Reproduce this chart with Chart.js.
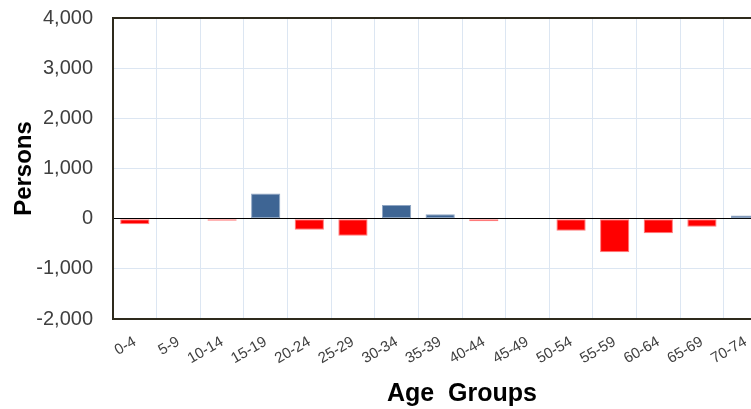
<!DOCTYPE html>
<html>
<head>
<meta charset="utf-8">
<script src="https://cdn.jsdelivr.net/npm/chart.js@4"></script>
<style>
  html, body { margin: 0; padding: 0; background: #fff; overflow: hidden; }
  #wrap { width: 751px; height: 409px; overflow: hidden; position: relative; }
  canvas { position: absolute; left: 0; top: 0; }
</style>
</head>
<body>
<div id="wrap">
  <canvas id="chart" width="811" height="409"></canvas>
</div>
<script>
// Age groups (last slot is empty, the plot runs past the picture edge)
const ageGroups = ['0-4', '5-9', '10-14', '15-19', '20-24', '25-29', '30-34', '35-39',
                   '40-44', '45-49', '50-54', '55-59', '60-64', '65-69', '70-74', ''];
const persons = [-110, 0, -40, 500, -220, -340, 270, 90,
                 -50, 0, -240, -670, -290, -160, 65, null];
const yTicks = [-2000, -1000, 0, 1000, 2000, 3000, 4000];

const posColor = '#3e6594';
const negColor = '#ff0000';

// Frame round the plot area (left, top, bottom)
const plotFrame = {
    id: 'plotFrame',
    afterDraw(chart) {
        const a = chart.chartArea;
        const ctx = chart.ctx;
        ctx.save();
        ctx.strokeStyle = '#2e2a1c';
        ctx.lineWidth = 2;
        ctx.strokeRect(a.left, a.top, a.right - a.left, a.bottom - a.top);
        ctx.restore();
    }
};

const ctx = document.getElementById('chart').getContext('2d');
new Chart(ctx, {
    type: 'bar',
    data: {
        labels: ageGroups,
        datasets: [{
            data: persons,
            backgroundColor: persons.map(v => v >= 0 ? posColor : negColor),
            borderColor: persons.map(v => v >= 0 ? '#8fa6c4' : '#ff7a7a'),
            borderWidth: 1,
            borderSkipped: false,
            barPercentage: 0.67,
            categoryPercentage: 1
        }]
    },
    options: {
        responsive: false,
        animation: false,
        layout: { padding: { top: 18, left: 0, right: 0, bottom: 0 } },
        plugins: {
            legend: { display: false },
            tooltip: { enabled: false }
        },
        scales: {
            x: {
                afterFit: axis => {
                    axis.height = 90;
                    axis.paddingLeft = 0;
                    axis.paddingRight = 0;
                },
                grid: { color: '#dce6f2', lineWidth: 1, drawTicks: false, offset: true },
                border: { display: false },
                ticks: {
                    autoSkip: false,
                    minRotation: 30,
                    maxRotation: 30,
                    padding: 14,
                    color: '#404040',
                    font: { family: 'Liberation Sans, Arial', size: 15 }
                },
                title: {
                    display: true,
                    text: 'Age  Groups',
                    color: '#000',
                    font: { family: 'Liberation Sans, Arial', size: 25, weight: 'bold' },
                    padding: { top: 4, bottom: 0 }
                }
            },
            y: {
                min: -2000,
                max: 4000,
                afterBuildTicks: axis => { axis.ticks = yTicks.map(v => ({ value: v })); },
                afterFit: axis => {
                    axis.width = 113;
                    axis.paddingTop = 0;
                    axis.paddingBottom = 0;
                },
                grid: {
                    color: c => c.tick && c.tick.value === 0 ? '#000' : '#dce6f2',
                    lineWidth: 1,
                    drawTicks: false
                },
                border: { display: false },
                ticks: {
                    padding: 20,
                    color: '#404040',
                    font: { family: 'Liberation Sans, Arial', size: 20 },
                    callback: v => v.toLocaleString('en-US')
                },
                title: {
                    display: true,
                    text: 'Persons',
                    color: '#000',
                    font: { family: 'Liberation Sans, Arial', size: 24, weight: 'bold' },
                    padding: { top: 10, bottom: 0 }
                }
            }
        }
    },
    plugins: [plotFrame]
});
</script>
</body>
</html>
